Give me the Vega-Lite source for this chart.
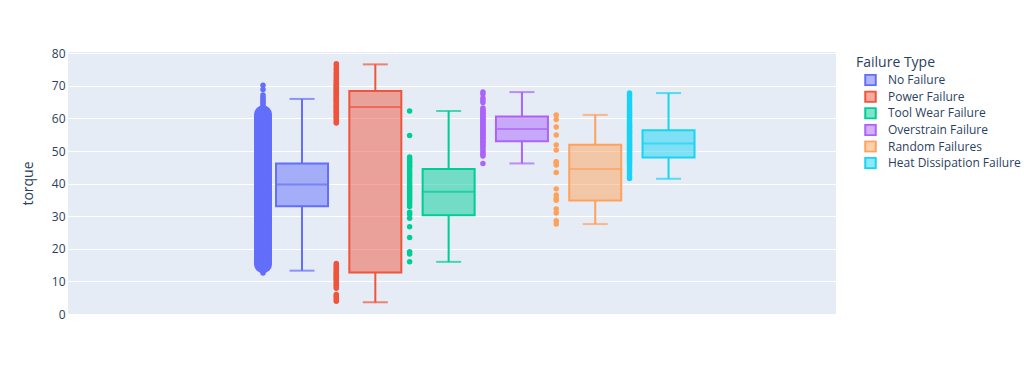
{
  "$schema": "https://vega.github.io/schema/vega-lite/v6.json",
  "width": 768,
  "height": 262,
  "autosize": {"type": "none"},
  "padding": {"left": 68, "top": 52, "right": 188, "bottom": 70},
  "background": "white",
  "config": {
    "view": {"fill": "#E5ECF6", "stroke": null},
    "font": "Open Sans",
    "axisY": {
      "grid": true, "gridColor": "white", "gridWidth": 1,
      "domain": false, "ticks": false,
      "labelColor": "#2a3f5f", "labelFontSize": 12, "labelPadding": 3,
      "titleColor": "#2a3f5f", "titleFontSize": 14, "titleFontWeight": "normal", "titlePadding": 16
    },
    "legend": {
      "titleColor": "#2a3f5f", "titleFontSize": 14, "titleFontWeight": "normal",
      "labelColor": "#2a3f5f", "labelFontSize": 12,
      "symbolType": "square", "symbolSize": 110, "symbolStrokeWidth": 2,
      "symbolOffset": 8, "labelOffset": 11, "rowPadding": 3.6, "titlePadding": 4
    }
  },
  "resolve": {"legend": {"color": "independent"}},
  "datasets": {
    "box": [
      {"t": "No Failure", "lo": 13.3, "q1": 33.1, "med": 39.75, "q3": 46.2, "hi": 66.0},
      {"t": "Power Failure", "lo": 3.6, "q1": 12.7, "med": 63.5, "q3": 68.4, "hi": 76.6},
      {"t": "Tool Wear Failure", "lo": 16.0, "q1": 30.3, "med": 37.5, "q3": 44.5, "hi": 62.3},
      {"t": "Overstrain Failure", "lo": 46.2, "q1": 53.0, "med": 56.8, "q3": 60.6, "hi": 68.1},
      {"t": "Random Failures", "lo": 27.6, "q1": 34.8, "med": 44.5, "q3": 51.9, "hi": 61.1},
      {"t": "Heat Dissipation Failure", "lo": 41.5, "q1": 48.0, "med": 52.3, "q3": 56.4, "hi": 67.8}
    ],
    "pts": [
      {"t":"No Failure","v":12.6},{"t":"No Failure","v":13.1},{"t":"No Failure","v":13.5},{"t":"No Failure","v":14.2},{"t":"No Failure","v":14.8},{"t":"No Failure","v":15.3},{"t":"No Failure","v":16.0},{"t":"No Failure","v":16.6},{"t":"No Failure","v":17.1},{"t":"No Failure","v":17.9},{"t":"No Failure","v":18.4},{"t":"No Failure","v":19.0},{"t":"No Failure","v":19.7},{"t":"No Failure","v":20.3},{"t":"No Failure","v":20.8},{"t":"No Failure","v":21.6},{"t":"No Failure","v":22.1},{"t":"No Failure","v":22.9},{"t":"No Failure","v":23.4},{"t":"No Failure","v":24.0},{"t":"No Failure","v":24.7},{"t":"No Failure","v":25.3},{"t":"No Failure","v":25.9},{"t":"No Failure","v":26.4},{"t":"No Failure","v":27.2},{"t":"No Failure","v":27.8},{"t":"No Failure","v":28.3},{"t":"No Failure","v":29.1},{"t":"No Failure","v":29.6},{"t":"No Failure","v":30.2},{"t":"No Failure","v":30.9},{"t":"No Failure","v":31.5},{"t":"No Failure","v":32.0},{"t":"No Failure","v":32.8},{"t":"No Failure","v":33.3},{"t":"No Failure","v":34.0},{"t":"No Failure","v":34.6},{"t":"No Failure","v":35.1},{"t":"No Failure","v":35.9},{"t":"No Failure","v":36.4},{"t":"No Failure","v":37.0},{"t":"No Failure","v":37.7},{"t":"No Failure","v":38.3},{"t":"No Failure","v":38.8},{"t":"No Failure","v":39.6},{"t":"No Failure","v":40.1},{"t":"No Failure","v":40.8},{"t":"No Failure","v":41.4},{"t":"No Failure","v":41.9},{"t":"No Failure","v":42.7},{"t":"No Failure","v":43.2},{"t":"No Failure","v":43.9},{"t":"No Failure","v":44.5},{"t":"No Failure","v":45.0},{"t":"No Failure","v":45.8},{"t":"No Failure","v":46.3},{"t":"No Failure","v":47.0},{"t":"No Failure","v":47.6},{"t":"No Failure","v":48.1},{"t":"No Failure","v":48.9},{"t":"No Failure","v":49.4},{"t":"No Failure","v":50.1},{"t":"No Failure","v":50.7},{"t":"No Failure","v":51.2},{"t":"No Failure","v":52.0},{"t":"No Failure","v":52.5},{"t":"No Failure","v":53.2},{"t":"No Failure","v":53.8},{"t":"No Failure","v":54.3},{"t":"No Failure","v":55.1},{"t":"No Failure","v":55.6},{"t":"No Failure","v":56.3},{"t":"No Failure","v":56.9},{"t":"No Failure","v":57.4},{"t":"No Failure","v":58.2},{"t":"No Failure","v":58.7},{"t":"No Failure","v":59.4},{"t":"No Failure","v":60.0},{"t":"No Failure","v":60.5},{"t":"No Failure","v":61.3},{"t":"No Failure","v":61.8},{"t":"No Failure","v":62.5},{"t":"No Failure","v":63.0},{"t":"No Failure","v":63.6},{"t":"No Failure","v":64.2},{"t":"No Failure","v":64.8},{"t":"No Failure","v":65.3},{"t":"No Failure","v":65.9},{"t":"No Failure","v":66.5},{"t":"No Failure","v":67.2},{"t":"No Failure","v":68.9},{"t":"No Failure","v":70.2},
      {"t":"Power Failure","v":76.8},{"t":"Power Failure","v":76.2},{"t":"Power Failure","v":75.4},{"t":"Power Failure","v":74.9},{"t":"Power Failure","v":74.1},{"t":"Power Failure","v":73.6},{"t":"Power Failure","v":72.9},{"t":"Power Failure","v":72.4},{"t":"Power Failure","v":71.8},{"t":"Power Failure","v":71.5},{"t":"Power Failure","v":71.0},{"t":"Power Failure","v":70.6},{"t":"Power Failure","v":70.2},{"t":"Power Failure","v":69.9},{"t":"Power Failure","v":69.5},{"t":"Power Failure","v":69.2},{"t":"Power Failure","v":68.8},{"t":"Power Failure","v":68.5},{"t":"Power Failure","v":68.1},{"t":"Power Failure","v":67.8},{"t":"Power Failure","v":67.5},{"t":"Power Failure","v":67.2},{"t":"Power Failure","v":66.9},{"t":"Power Failure","v":66.5},{"t":"Power Failure","v":66.2},{"t":"Power Failure","v":65.9},{"t":"Power Failure","v":65.5},{"t":"Power Failure","v":65.1},{"t":"Power Failure","v":64.8},{"t":"Power Failure","v":64.4},{"t":"Power Failure","v":64.0},{"t":"Power Failure","v":63.7},{"t":"Power Failure","v":63.3},{"t":"Power Failure","v":63.0},{"t":"Power Failure","v":62.6},{"t":"Power Failure","v":62.2},{"t":"Power Failure","v":61.9},{"t":"Power Failure","v":61.5},{"t":"Power Failure","v":61.1},{"t":"Power Failure","v":60.7},{"t":"Power Failure","v":60.3},{"t":"Power Failure","v":59.9},{"t":"Power Failure","v":59.4},{"t":"Power Failure","v":58.9},{"t":"Power Failure","v":58.6},
      {"t":"Power Failure","v":15.5},{"t":"Power Failure","v":15.0},{"t":"Power Failure","v":14.6},{"t":"Power Failure","v":14.1},{"t":"Power Failure","v":13.7},{"t":"Power Failure","v":13.3},{"t":"Power Failure","v":12.9},{"t":"Power Failure","v":12.6},{"t":"Power Failure","v":12.2},{"t":"Power Failure","v":11.9},{"t":"Power Failure","v":11.5},{"t":"Power Failure","v":11.2},{"t":"Power Failure","v":10.8},{"t":"Power Failure","v":10.5},{"t":"Power Failure","v":10.1},{"t":"Power Failure","v":9.7},{"t":"Power Failure","v":9.2},{"t":"Power Failure","v":8.8},{"t":"Power Failure","v":8.3},{"t":"Power Failure","v":7.9},{"t":"Power Failure","v":6.0},{"t":"Power Failure","v":5.6},{"t":"Power Failure","v":5.2},{"t":"Power Failure","v":4.8},{"t":"Power Failure","v":4.3},{"t":"Power Failure","v":3.9},
      {"t":"Tool Wear Failure","v":62.3},{"t":"Tool Wear Failure","v":54.8},{"t":"Tool Wear Failure","v":48.2},{"t":"Tool Wear Failure","v":47.6},{"t":"Tool Wear Failure","v":47.0},{"t":"Tool Wear Failure","v":46.6},{"t":"Tool Wear Failure","v":46.1},{"t":"Tool Wear Failure","v":45.5},{"t":"Tool Wear Failure","v":45.1},{"t":"Tool Wear Failure","v":44.3},{"t":"Tool Wear Failure","v":43.6},{"t":"Tool Wear Failure","v":42.8},{"t":"Tool Wear Failure","v":42.1},{"t":"Tool Wear Failure","v":41.4},{"t":"Tool Wear Failure","v":40.6},{"t":"Tool Wear Failure","v":39.9},{"t":"Tool Wear Failure","v":39.2},{"t":"Tool Wear Failure","v":38.7},{"t":"Tool Wear Failure","v":38.1},{"t":"Tool Wear Failure","v":37.6},{"t":"Tool Wear Failure","v":37.0},{"t":"Tool Wear Failure","v":36.4},{"t":"Tool Wear Failure","v":35.8},{"t":"Tool Wear Failure","v":35.2},{"t":"Tool Wear Failure","v":34.5},{"t":"Tool Wear Failure","v":33.8},{"t":"Tool Wear Failure","v":33.0},{"t":"Tool Wear Failure","v":31.2},{"t":"Tool Wear Failure","v":30.6},{"t":"Tool Wear Failure","v":29.4},{"t":"Tool Wear Failure","v":26.8},{"t":"Tool Wear Failure","v":23.5},{"t":"Tool Wear Failure","v":19.1},{"t":"Tool Wear Failure","v":18.4},{"t":"Tool Wear Failure","v":16.0},
      {"t":"Overstrain Failure","v":68.1},{"t":"Overstrain Failure","v":67.5},{"t":"Overstrain Failure","v":66.3},{"t":"Overstrain Failure","v":65.6},{"t":"Overstrain Failure","v":64.9},{"t":"Overstrain Failure","v":63.2},{"t":"Overstrain Failure","v":62.7},{"t":"Overstrain Failure","v":62.3},{"t":"Overstrain Failure","v":61.9},{"t":"Overstrain Failure","v":61.5},{"t":"Overstrain Failure","v":61.1},{"t":"Overstrain Failure","v":60.7},{"t":"Overstrain Failure","v":60.3},{"t":"Overstrain Failure","v":59.9},{"t":"Overstrain Failure","v":59.6},{"t":"Overstrain Failure","v":59.2},{"t":"Overstrain Failure","v":58.8},{"t":"Overstrain Failure","v":58.5},{"t":"Overstrain Failure","v":58.1},{"t":"Overstrain Failure","v":57.8},{"t":"Overstrain Failure","v":57.4},{"t":"Overstrain Failure","v":57.1},{"t":"Overstrain Failure","v":56.7},{"t":"Overstrain Failure","v":56.4},{"t":"Overstrain Failure","v":56.0},{"t":"Overstrain Failure","v":55.7},{"t":"Overstrain Failure","v":55.3},{"t":"Overstrain Failure","v":55.0},{"t":"Overstrain Failure","v":54.6},{"t":"Overstrain Failure","v":54.2},{"t":"Overstrain Failure","v":53.9},{"t":"Overstrain Failure","v":53.5},{"t":"Overstrain Failure","v":53.1},{"t":"Overstrain Failure","v":52.7},{"t":"Overstrain Failure","v":52.3},{"t":"Overstrain Failure","v":51.8},{"t":"Overstrain Failure","v":51.3},{"t":"Overstrain Failure","v":50.7},{"t":"Overstrain Failure","v":50.1},{"t":"Overstrain Failure","v":49.5},{"t":"Overstrain Failure","v":49.0},{"t":"Overstrain Failure","v":48.5},{"t":"Overstrain Failure","v":46.2},
      {"t":"Random Failures","v":61.1},{"t":"Random Failures","v":59.7},{"t":"Random Failures","v":57.4},{"t":"Random Failures","v":54.9},{"t":"Random Failures","v":51.9},{"t":"Random Failures","v":50.3},{"t":"Random Failures","v":46.7},{"t":"Random Failures","v":46.4},{"t":"Random Failures","v":45.7},{"t":"Random Failures","v":43.4},{"t":"Random Failures","v":38.4},{"t":"Random Failures","v":36.5},{"t":"Random Failures","v":35.5},{"t":"Random Failures","v":34.9},{"t":"Random Failures","v":32.2},{"t":"Random Failures","v":31.0},{"t":"Random Failures","v":28.6},{"t":"Random Failures","v":27.6},
      {"t":"Heat Dissipation Failure","v":67.8},{"t":"Heat Dissipation Failure","v":67.1},{"t":"Heat Dissipation Failure","v":66.4},{"t":"Heat Dissipation Failure","v":65.6},{"t":"Heat Dissipation Failure","v":64.9},{"t":"Heat Dissipation Failure","v":64.2},{"t":"Heat Dissipation Failure","v":63.6},{"t":"Heat Dissipation Failure","v":63.1},{"t":"Heat Dissipation Failure","v":62.5},{"t":"Heat Dissipation Failure","v":62.0},{"t":"Heat Dissipation Failure","v":61.5},{"t":"Heat Dissipation Failure","v":61.0},{"t":"Heat Dissipation Failure","v":60.5},{"t":"Heat Dissipation Failure","v":60.0},{"t":"Heat Dissipation Failure","v":59.5},{"t":"Heat Dissipation Failure","v":59.0},{"t":"Heat Dissipation Failure","v":58.6},{"t":"Heat Dissipation Failure","v":58.1},{"t":"Heat Dissipation Failure","v":57.7},{"t":"Heat Dissipation Failure","v":57.3},{"t":"Heat Dissipation Failure","v":56.9},{"t":"Heat Dissipation Failure","v":56.5},{"t":"Heat Dissipation Failure","v":56.1},{"t":"Heat Dissipation Failure","v":55.7},{"t":"Heat Dissipation Failure","v":55.3},{"t":"Heat Dissipation Failure","v":54.9},{"t":"Heat Dissipation Failure","v":54.5},{"t":"Heat Dissipation Failure","v":54.1},{"t":"Heat Dissipation Failure","v":53.7},{"t":"Heat Dissipation Failure","v":53.3},{"t":"Heat Dissipation Failure","v":52.9},{"t":"Heat Dissipation Failure","v":52.5},{"t":"Heat Dissipation Failure","v":52.1},{"t":"Heat Dissipation Failure","v":51.7},{"t":"Heat Dissipation Failure","v":51.3},{"t":"Heat Dissipation Failure","v":50.9},{"t":"Heat Dissipation Failure","v":50.5},{"t":"Heat Dissipation Failure","v":50.1},{"t":"Heat Dissipation Failure","v":49.7},{"t":"Heat Dissipation Failure","v":49.3},{"t":"Heat Dissipation Failure","v":48.9},{"t":"Heat Dissipation Failure","v":48.5},{"t":"Heat Dissipation Failure","v":48.1},{"t":"Heat Dissipation Failure","v":47.7},{"t":"Heat Dissipation Failure","v":47.2},{"t":"Heat Dissipation Failure","v":46.7},{"t":"Heat Dissipation Failure","v":46.2},{"t":"Heat Dissipation Failure","v":45.7},{"t":"Heat Dissipation Failure","v":45.1},{"t":"Heat Dissipation Failure","v":44.5},{"t":"Heat Dissipation Failure","v":43.8},{"t":"Heat Dissipation Failure","v":43.0},{"t":"Heat Dissipation Failure","v":42.1},{"t":"Heat Dissipation Failure","v":41.6}
    ]
  },
  "layer": [
    {
      "data": {"name": "box"},
      "mark": {"type": "rule", "strokeWidth": 2},
      "encoding": {
        "x": {"field": "t", "type": "nominal", "axis": null, "scale": {"type": "band", "domain": ["_a", "_b", "_c", "No Failure", "Power Failure", "Tool Wear Failure", "Overstrain Failure", "Random Failures", "Heat Dissipation Failure", "_d", "_e"], "paddingInner": 0.615, "paddingOuter": 0.046, "align": 0}},
        "y": {"field": "lo", "type": "quantitative", "title": "torque", "scale": {"domain": [0, 80.4], "nice": false, "zero": false}, "axis": {"values": [0, 10, 20, 30, 40, 50, 60, 70, 80], "title": "torque"}},
        "y2": {"field": "q1"},
        "color": {"field": "t", "type": "nominal", "legend": null, "scale": {"domain": ["No Failure", "Power Failure", "Tool Wear Failure", "Overstrain Failure", "Random Failures", "Heat Dissipation Failure"], "range": ["#636efa", "#EF553B", "#00cc96", "#ab63fa", "#FFA15A", "#19d3f3"]}}
      }
    },
    {
      "data": {"name": "box"},
      "mark": {"type": "rule", "strokeWidth": 2},
      "encoding": {
        "x": {"field": "t", "type": "nominal"},
        "y": {"field": "q3", "type": "quantitative", "axis": {"values": [0, 10, 20, 30, 40, 50, 60, 70, 80], "title": "torque"}},
        "y2": {"field": "hi"},
        "color": {"field": "t", "type": "nominal", "legend": null}
      }
    },
    {
      "data": {"name": "box"},
      "mark": {"type": "tick", "size": 25, "thickness": 2},
      "encoding": {
        "x": {"field": "t", "type": "nominal"},
        "y": {"field": "lo", "type": "quantitative", "axis": {"values": [0, 10, 20, 30, 40, 50, 60, 70, 80], "title": "torque"}},
        "color": {"field": "t", "type": "nominal", "legend": null}
      }
    },
    {
      "data": {"name": "box"},
      "mark": {"type": "tick", "size": 25, "thickness": 2},
      "encoding": {
        "x": {"field": "t", "type": "nominal"},
        "y": {"field": "hi", "type": "quantitative", "axis": {"values": [0, 10, 20, 30, 40, 50, 60, 70, 80], "title": "torque"}},
        "color": {"field": "t", "type": "nominal", "legend": null}
      }
    },
    {
      "data": {"name": "box"},
      "mark": {"type": "bar", "width": 52, "fillOpacity": 0.5},
      "encoding": {
        "x": {"field": "t", "type": "nominal"},
        "y": {"field": "q1", "type": "quantitative", "axis": {"values": [0, 10, 20, 30, 40, 50, 60, 70, 80], "title": "torque"}},
        "y2": {"field": "q3"},
        "color": {
          "field": "t", "type": "nominal",
          "legend": {
            "title": "Failure Type", "orient": "none", "legendX": 788, "legendY": 4,
            "symbolSize": 110, "rowPadding": 3.6, "clipHeight": 12.2,
            "encode": {
              "symbols": {"update": {
                "fill": {"scale": "color", "field": "value"},
                "fillOpacity": {"value": 0.5},
                "stroke": {"scale": "color", "field": "value"},
                "strokeWidth": {"value": 2},
                "shape": {"value": "square"},
                "size": {"value": 110}
              }}
            }
          }
        }
      }
    },
    {
      "data": {"name": "box"},
      "mark": {"type": "bar", "width": 52, "filled": false, "strokeWidth": 2},
      "encoding": {
        "x": {"field": "t", "type": "nominal"},
        "y": {"field": "q1", "type": "quantitative", "axis": {"values": [0, 10, 20, 30, 40, 50, 60, 70, 80], "title": "torque"}},
        "y2": {"field": "q3"},
        "color": {"field": "t", "type": "nominal", "legend": null}
      }
    },
    {
      "data": {"name": "box"},
      "mark": {"type": "tick", "size": 52, "thickness": 2},
      "encoding": {
        "x": {"field": "t", "type": "nominal"},
        "y": {"field": "med", "type": "quantitative", "axis": {"values": [0, 10, 20, 30, 40, 50, 60, 70, 80], "title": "torque"}},
        "color": {"field": "t", "type": "nominal", "legend": null}
      }
    },
    {
      "data": {"name": "pts"},
      "mark": {"type": "point", "filled": true, "opacity": 1, "xOffset": -39},
      "encoding": {
        "x": {"field": "t", "type": "nominal"},
        "y": {"field": "v", "type": "quantitative", "axis": {"values": [0, 10, 20, 30, 40, 50, 60, 70, 80], "title": "torque"}},
        "color": {"field": "t", "type": "nominal", "legend": null},
        "size": {"condition": {"test": "datum.t === 'No Failure' && datum.v >= 15.3 && datum.v <= 61.5", "value": 320}, "value": 30}
      }
    }
  ]
}
